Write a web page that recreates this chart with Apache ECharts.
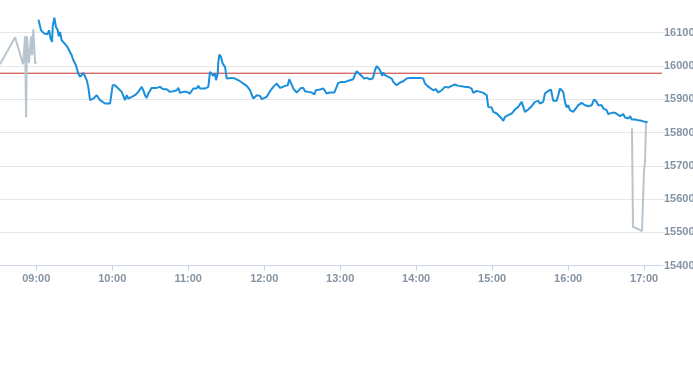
<!DOCTYPE html>
<html>
<head>
<meta charset="utf-8">
<script src="https://cdn.jsdelivr.net/npm/echarts@6/dist/echarts.min.js"></script>
<style>
  html, body { margin: 0; padding: 0; background: #ffffff; }
  #chart { width: 693px; height: 365px; }
</style>
</head>
<body>
<div id="chart"></div>
<script>
// Times are minutes since midnight
const preMinutes = [511.4, 523.3, 529.6, 531.2, 532.0, 532.7, 534.3, 535.9, 536.7, 537.7, 539.1, 540.4];
const preValues  = [16005, 16086, 16005, 16089, 15846, 16089, 16008, 16089, 16032, 16110, 16008, 16011];

const mainMinutes = [
  541.8, 543.8, 545.1, 546.4, 547.7, 548.8, 550.1, 551.4, 552.5, 553.0, 554.3, 555.6, 557.0, 557.8, 558.8,
  560.1, 561.4, 562.5, 563.5, 564.6, 566.1, 568.0, 569.3, 571.4, 573.2, 574.6, 575.9, 577.2, 578.5, 579.9,
  581.1, 582.5, 585.1, 587.8, 589.0, 590.4, 591.7, 594.3, 598.3, 599.6, 600.4, 602.2, 604.8, 607.5, 608.8,
  610.1, 611.4, 612.7, 615.4, 618.0, 619.3, 620.6, 621.9, 623.3, 624.5, 625.9, 627.2, 628.5, 629.8, 631.2,
  632.5, 635.1, 637.7, 639.1, 640.3, 643.0, 645.6, 648.2, 650.9, 652.2, 653.5, 656.1, 658.8, 660.1, 661.4,
  662.8, 664.0, 665.4, 666.7, 668.0, 669.3, 670.7, 673.3, 675.9, 677.2, 677.8, 678.6, 679.8, 681.2, 682.0,
  683.3, 683.8, 684.6, 685.9, 687.2, 689.1, 690.4, 691.7, 694.3, 697.0, 698.3, 700.9, 703.5, 706.2, 708.8,
  711.4, 712.8, 714.1, 716.7, 718.1, 719.3, 722.0, 724.6, 727.2, 729.9, 731.1, 732.5, 734.3, 736.4, 738.6,
  739.8, 741.7, 743.0, 745.7, 746.9, 749.1, 750.9, 752.2, 754.8, 757.5, 759.6, 760.7, 764.1, 766.7, 768.0,
  769.3, 772.0, 775.3, 777.2, 778.5, 781.2, 782.5, 783.8, 785.1, 787.7, 790.3, 791.7, 793.0, 794.3, 797.0,
  798.8, 800.9, 803.5, 805.7, 807.5, 808.8, 810.6, 812.0, 813.2, 814.0, 815.4, 816.7, 818.0, 819.3, 820.7,
  821.9, 823.3, 824.6, 827.2, 829.8, 832.5, 835.1, 840.4, 843.0, 845.6, 847.0, 848.8, 850.9, 852.2, 853.5,
  855.6, 857.5, 860.1, 862.7, 865.4, 868.0, 870.6, 873.3, 875.9, 877.2, 878.5, 881.1, 883.8, 885.1, 887.8,
  890.4, 893.0, 895.7, 896.9, 898.3, 899.6, 900.9, 903.6, 904.8, 907.5, 908.8, 910.1, 912.7, 915.4, 918.0,
  920.6, 922.0, 923.3, 924.6, 925.9, 928.5, 931.2, 933.8, 935.1, 936.4, 937.8, 940.3, 941.7, 944.3, 946.4,
  948.2, 950.9, 952.2, 953.5, 954.9, 956.1, 957.5, 958.8, 960.1, 961.4, 962.8, 964.0, 965.4, 966.7, 968.0,
  970.7, 973.3, 975.9, 977.2, 978.6, 980.4, 981.2, 982.5, 983.8, 985.2, 986.5, 987.8, 989.1, 990.4, 991.7,
  994.4, 997.1, 998.4, 1001.0, 1003.6, 1004.9, 1006.3, 1007.5, 1008.9, 1010.2, 1012.8, 1015.4, 1018.1, 1020.7, 1022.7
];
const mainValues = [
  16139, 16107, 16102, 16097, 16102, 16095, 16107, 16082, 16072, 16117, 16145, 16117, 16107, 16089, 16102,
  16077, 16082, 16067, 16072, 16057, 16052, 16032, 16017, 16002, 15977, 15967, 15967, 15979, 15982, 15957,
  15937, 15897, 15902, 15912, 15905, 15897, 15902, 15887, 15887, 15887, 15942, 15942, 15932, 15922, 15919,
  15897, 15912, 15902, 15907, 15912, 15912, 15922, 15927, 15937, 15927, 15912, 15904, 15917, 15922, 15934,
  15934, 15934, 15937, 15940, 15930, 15930, 15922, 15924, 15927, 15934, 15919, 15922, 15922, 15927, 15917,
  15922, 15932, 15927, 15932, 15940, 15932, 15930, 15932, 15937, 15982, 15977, 15982, 15970, 15977, 15957,
  15977, 16012, 16034, 16027, 16007, 15997, 15962, 15964, 15964, 15962, 15964, 15954, 15947, 15940, 15927,
  15902, 15907, 15912, 15910, 15900, 15902, 15907, 15924, 15937, 15947, 15952, 15934, 15936, 15940, 15942,
  15960, 15944, 15932, 15920, 15920, 15934, 15934, 15924, 15922, 15920, 15914, 15927, 15929, 15932, 15934,
  15917, 15920, 15920, 15937, 15949, 15952, 15950, 15952, 15957, 15957, 15960, 15974, 15984, 15980, 15970,
  15962, 15964, 15960, 15962, 15987, 15999, 15992, 15982, 15970, 15980, 15972, 15977, 15967, 15972, 15962,
  15952, 15954, 15942, 15950, 15954, 15962, 15964, 15964, 15964, 15962, 15947, 15940, 15934, 15937, 15927,
  15930, 15920, 15927, 15937, 15935, 15940, 15944, 15940, 15939, 15942, 15937, 15937, 15932, 15919, 15925,
  15922, 15919, 15912, 15877, 15872, 15875, 15862, 15857, 15859, 15842, 15835, 15847, 15852, 15857, 15869,
  15877, 15885, 15892, 15877, 15862, 15869, 15879, 15892, 15889, 15895, 15887, 15892, 15917, 15925, 15929,
  15895, 15895, 15912, 15932, 15935, 15922, 15892, 15875, 15882, 15867, 15872, 15862, 15869, 15875, 15882,
  15889, 15882, 15879, 15877, 15882, 15899, 15895, 15892, 15882, 15887, 15882, 15872, 15877, 15867, 15855,
  15859, 15859, 15855, 15849, 15855, 15845, 15849, 15842, 15849, 15839, 15839, 15837, 15835, 15832, 15831
];

const postMinutes = [1010.4, 1011.2, 1013.6, 1015.2, 1016.7, 1018.3, 1019.1, 1019.9, 1020.7, 1021.5];
const postValues  = [15813, 15516, 15513, 15510, 15504, 15504, 15597, 15687, 15711, 15828];

const prevClose = 15978;
const hourTicks = [540, 600, 660, 720, 780, 840, 900, 960, 1020];
const yTicks = [15400, 15500, 15600, 15700, 15800, 15900, 16000, 16100];

const xMin = 511.4, xMax = 1034.1;

function pairs(xs, ys) { return xs.map((x, i) => [x, ys[i]]); }
function hhmm(v) {
  const h = Math.floor(v / 60), m = Math.round(v - h * 60);
  return (h < 10 ? '0' : '') + h + ':' + (m < 10 ? '0' : '') + m;
}

const labelColor = '#8593a2';
const chart = echarts.init(document.getElementById('chart'), null, { renderer: 'canvas' });
chart.setOption({
  animation: false,
  backgroundColor: '#ffffff',
  textStyle: { fontFamily: 'Liberation Sans, Arial, sans-serif' },
  grid: { left: 0, top: 32.6, right: 31, bottom: 99.3, containLabel: false, outerBoundsMode: 'none' },
  xAxis: {
    type: 'value',
    min: xMin,
    max: xMax,
    splitLine: { show: false },
    axisLine: { show: true, lineStyle: { color: '#ccd6eb', width: 1 } },
    axisTick: { show: true, length: 5, lineStyle: { color: '#ccd6eb' }, customValues: hourTicks },
    axisLabel: { customValues: hourTicks, formatter: hhmm, color: labelColor, fontSize: 11, fontWeight: 'bold', margin: 8 }
  },
  yAxis: {
    type: 'value',
    position: 'right',
    min: yTicks[0],
    max: yTicks[yTicks.length - 1],
    interval: 100,
    axisLine: { show: false },
    axisTick: { show: true, length: 3, lineStyle: { color: '#e6e6e6' } },
    splitLine: { show: true, lineStyle: { color: '#e6e6e6', width: 1 } },
    axisLabel: { color: labelColor, fontSize: 11, fontWeight: 'bold', margin: 2, formatter: v => String(v) }
  },
  series: [
    {
      type: 'line', data: [[xMin, prevClose], [xMax, prevClose]], showSymbol: false, silent: true,
      lineStyle: { color: '#c4302b', width: 1 }, itemStyle: { color: '#c4302b' }, z: 1
    },
    {
      type: 'line', data: pairs(preMinutes, preValues), showSymbol: false, clip: false,
      lineStyle: { color: '#b8c5ce', width: 2 }, itemStyle: { color: '#b8c5ce' }, z: 2
    },
    {
      type: 'line', data: pairs(postMinutes, postValues), showSymbol: false, clip: false,
      lineStyle: { color: '#b8c5ce', width: 2 }, itemStyle: { color: '#b8c5ce' }, z: 2
    },
    {
      type: 'line', data: pairs(mainMinutes, mainValues), showSymbol: false, clip: false,
      lineStyle: { color: '#1a8fdb', width: 2 }, itemStyle: { color: '#1a8fdb' }, z: 3
    }
  ]
});
</script>
</body>
</html>
